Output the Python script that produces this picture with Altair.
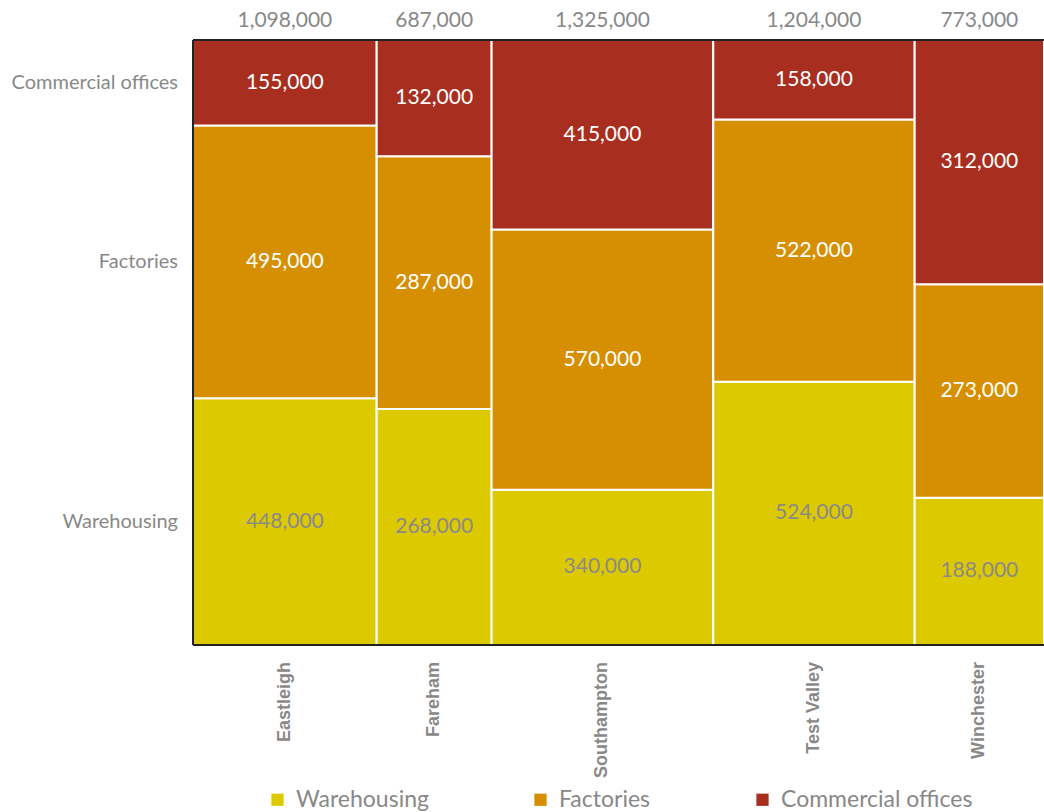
import altair as alt
import pandas as pd

regions = ["Eastleigh", "Fareham", "Southampton", "Test Valley", "Winchester"]
warehousing = [448000, 268000, 340000, 524000, 188000]
factories = [495000, 287000, 570000, 522000, 273000]
commercial = [155000, 132000, 415000, 158000, 312000]
categories = ["Warehousing", "Factories", "Commercial offices"]
colors = ["#DDC900", "#D68F00", "#A82F1F"]

FONT = "Lato"
W, H = 851, 605

rows = []
tot_rows = []
cum = 0
for i, r in enumerate(regions):
    vals = [warehousing[i], factories[i], commercial[i]]
    total = sum(vals)
    x0, x1 = cum, cum + total
    y = 0.0
    for c, v in zip(categories, vals):
        f = v / total
        rows.append({"region": r, "cat": c, "value": v, "x": x0, "x2": x1,
                     "xm": (x0 + x1) / 2, "y": y, "y2": y + f, "ym": y + f / 2,
                     "label": f"{v:,}",
                     "tcolor": "#8a8a8a" if c == "Warehousing" else "white"})
        y += f
    tot_rows.append({"region": r, "xm": (x0 + x1) / 2, "label": f"{total:,}"})
    cum = x1

df = pd.DataFrame(rows)
tdf = pd.DataFrame(tot_rows)
left = df[df["region"] == regions[0]]

xs = alt.Scale(domain=[0, cum], nice=False, zero=True)
ys = alt.Scale(domain=[0, 1], nice=False)

rects = alt.Chart(df).mark_rect(stroke="white", strokeWidth=2).encode(
    x=alt.X("x:Q", scale=xs, axis=None),
    x2="x2:Q",
    y=alt.Y("y:Q", scale=ys, axis=None),
    y2="y2:Q",
    color=alt.Color("cat:N", scale=alt.Scale(domain=categories, range=colors),
                    legend=alt.Legend(title=None, orient="none", direction="horizontal",
                                      legendX=73, legendY=748,
                                      symbolType="square", symbolSize=150,
                                      symbolStrokeWidth=0,
                                      labelFontSize=23, labelColor="#888888",
                                      labelFont=FONT, labelLimit=0, columnPadding=100,
                                      labelOffset=7, symbolOffset=0)),
)

vals = alt.Chart(df).mark_text(fontSize=21, font=FONT).encode(
    x=alt.X("xm:Q", scale=xs),
    y=alt.Y("ym:Q", scale=ys),
    text="label:N",
    color=alt.Color("tcolor:N", scale=None),
)

tops = alt.Chart(tdf).mark_text(fontSize=21, font=FONT, color="#888888", baseline="middle").encode(
    x=alt.X("xm:Q", scale=xs),
    y=alt.value(-19),
    text="label:N",
)

bottoms = alt.Chart(tdf).mark_text(fontSize=18, font="Liberation Sans", fontWeight="bold",
                                   color="#888888", angle=270, align="right",
                                   baseline="middle").encode(
    x=alt.X("xm:Q", scale=xs),
    y=alt.value(622),
    text="region:N",
)

lefts = alt.Chart(left).mark_text(fontSize=20, font=FONT, color="#888888", align="right",
                                  baseline="middle", dx=-15).encode(
    x=alt.value(0),
    y=alt.Y("ym:Q", scale=ys),
    text="cat:N",
)

border_left = alt.Chart(tdf).mark_rule(color="#222222", strokeWidth=2).encode(
    x=alt.value(0), y=alt.value(0), y2=alt.value(H))
border_top = alt.Chart(tdf).mark_rule(color="#222222", strokeWidth=2).encode(
    x=alt.value(0), x2=alt.value(W), y=alt.value(0))
border_bottom = alt.Chart(tdf).mark_rule(color="#222222", strokeWidth=2).encode(
    x=alt.value(0), x2=alt.value(W), y=alt.value(H))

chart = alt.layer(rects, border_left, border_top, border_bottom,
                  vals, tops, bottoms, lefts).properties(
    width=W, height=H,
    autosize=alt.AutoSizeParams(type="none"),
    padding={"left": 193, "top": 40, "right": 0, "bottom": 167},
).configure_view(stroke=None)

chart.save("out.html", embed_options={"renderer": "svg", "actions": False})
